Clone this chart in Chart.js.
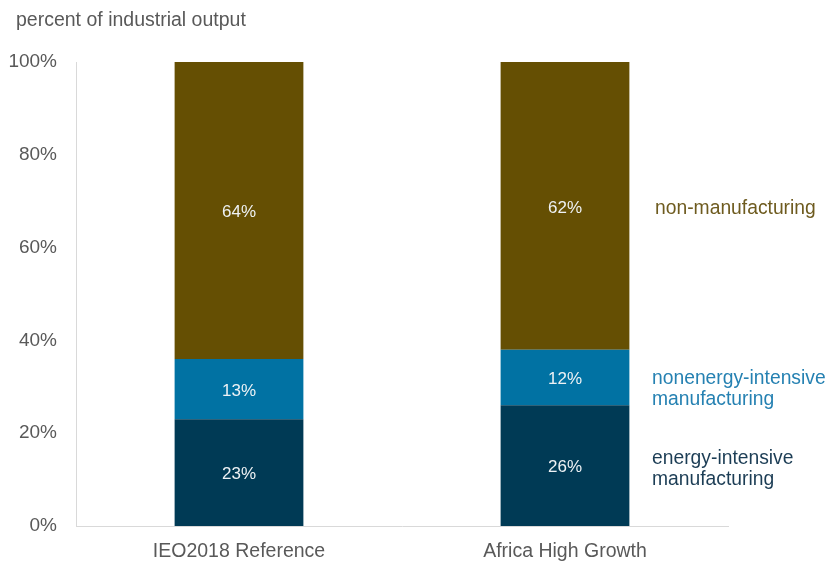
<!DOCTYPE html>
<html>
<head>
<meta charset="utf-8">
<script src="https://cdn.jsdelivr.net/npm/chart.js@4"></script>
<style>
  html, body { margin: 0; padding: 0; background: #ffffff; }
  #wrap { width: 828px; height: 561px; }
</style>
</head>
<body>
<div id="wrap"><canvas id="outputChart"></canvas></div>
<script>
// ===================== DATA =====================
const categories = ['IEO2018 Reference', 'Africa High Growth'];
const energyIntensive = [23, 26];
const nonenergyIntensive = [13, 12];
const nonManufacturing = [64, 62];
const seriesNames = [['energy-intensive', 'manufacturing'], ['nonenergy-intensive', 'manufacturing'], ['non-manufacturing']];
const yTicks = [0, 20, 40, 60, 80, 100];

const colors = ['#003a55', '#0172a3', '#654f03'];
const labelColors = ['#1c3d55', '#2581b2', '#6e5b1f'];
const FONT = "'Liberation Sans', Arial, sans-serif";

// labels written inside each segment
const segmentLabels = {
    id: 'segmentLabels',
    afterDatasetsDraw(chart) {
        const ctx = chart.ctx;
        ctx.save();
        ctx.font = '17px ' + FONT;
        ctx.fillStyle = '#eef2f5';
        ctx.textAlign = 'center';
        ctx.textBaseline = 'middle';
        chart.data.datasets.forEach((ds, i) => {
            chart.getDatasetMeta(i).data.forEach((bar, j) => {
                const mid = (bar.y + bar.base) / 2 + 2;
                ctx.fillText(ds.data[j] + '%', bar.x, mid);
            });
        });
        ctx.restore();
    }
};

// series names to the right of the last bar
const sideLabels = {
    id: 'sideLabels',
    afterDraw(chart) {
        const ctx = chart.ctx;
        const last = categories.length - 1;
        const nudge = [3, 12, 3];
        const dx = [0, 0, 3];
        ctx.save();
        ctx.font = '19.3px ' + FONT;
        ctx.textAlign = 'left';
        ctx.textBaseline = 'middle';
        chart.data.datasets.forEach((ds, i) => {
            const bar = chart.getDatasetMeta(i).data[last];
            const mid = (bar.y + bar.base) / 2 + nudge[i];
            const lines = seriesNames[i];
            const lh = 21;
            ctx.fillStyle = labelColors[i];
            lines.forEach((t, k) => {
                ctx.fillText(t, chart.chartArea.right - 76 + dx[i], mid + (k - (lines.length - 1) / 2) * lh);
            });
        });
        ctx.restore();
    }
};

// axis title at the top left
const topTitle = {
    id: 'topTitle',
    afterDraw(chart) {
        const ctx = chart.ctx;
        ctx.save();
        ctx.font = '19.5px ' + FONT;
        ctx.fillStyle = '#595959';
        ctx.textBaseline = 'middle';
        ctx.fillText('percent of industrial output', 16, 21);
        ctx.restore();
    }
};

new Chart(document.getElementById('outputChart'), {
    type: 'bar',
    data: {
        labels: categories,
        datasets: [
            { label: 'energy-intensive manufacturing', data: energyIntensive, backgroundColor: colors[0] },
            { label: 'nonenergy-intensive manufacturing', data: nonenergyIntensive, backgroundColor: colors[1] },
            { label: 'non-manufacturing', data: nonManufacturing, backgroundColor: colors[2] }
        ]
    },
    options: {
        responsive: true,
        maintainAspectRatio: false,
        animation: false,
        layout: { padding: { top: 62, left: 0, right: 100, bottom: 0 } },
        datasets: { bar: { barPercentage: 0.395, categoryPercentage: 1.0 } },
        plugins: {
            legend: { display: false },
            tooltip: { enabled: false }
        },
        scales: {
            x: {
                stacked: true,
                afterFit(axis) { axis.height = 35; },
                grid: { display: false, drawTicks: false },
                border: { color: '#d9d9d9', width: 1 },
                ticks: { color: '#595959', font: { family: FONT, size: 19.5 }, padding: 14 }
            },
            y: {
                stacked: true,
                min: 0,
                max: 100,
                afterBuildTicks(axis) { axis.ticks = yTicks.map(v => ({ value: v })); },
                afterFit(axis) { axis.width = 76; },
                grid: { display: false, drawTicks: false },
                border: { color: '#d9d9d9', width: 1 },
                ticks: {
                    color: '#595959',
                    font: { family: FONT, size: 19 },
                    padding: 19,
                    callback: v => v + '%'
                }
            }
        }
    },
    plugins: [segmentLabels, sideLabels, topTitle]
});
</script>
</body>
</html>
